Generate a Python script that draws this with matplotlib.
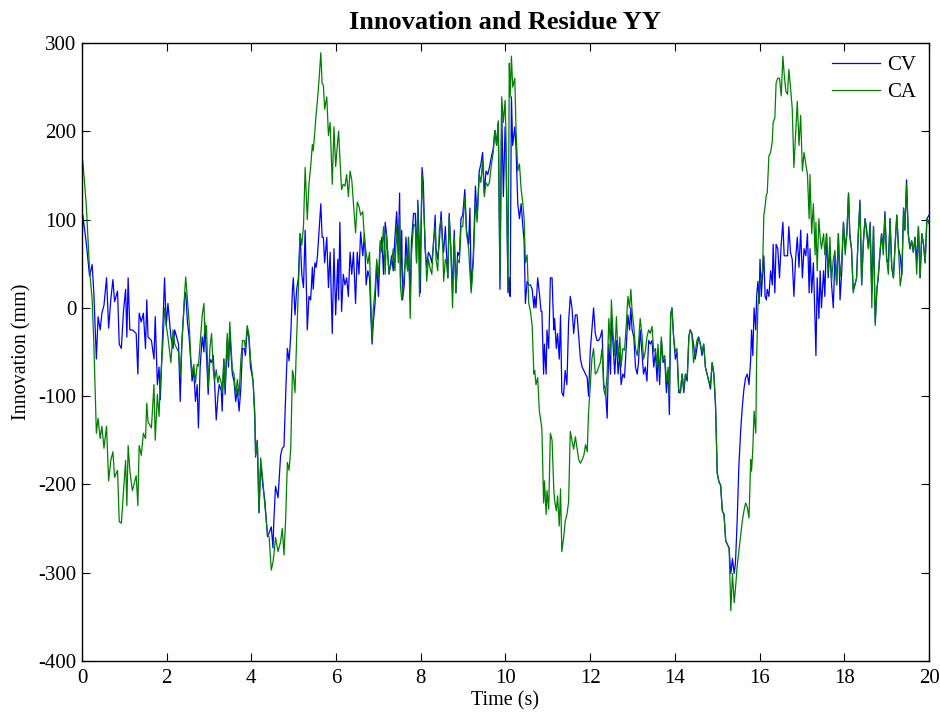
import matplotlib
matplotlib.use('Agg')
import matplotlib.pyplot as plt

plt.rcParams['font.family'] = ['Liberation Serif', 'DejaVu Serif']
plt.rcParams['axes.unicode_minus'] = False

# time (s)
time = [
    0.00, 0.02, 0.10, 0.18, 0.24, 0.28, 0.34, 0.38, 0.43, 0.47, 0.52, 0.58, 0.63, 0.68, 0.73, 0.77,
    0.84, 0.88, 0.93, 0.98, 1.03, 1.06, 1.09, 1.13, 1.19, 1.28, 1.32, 1.35, 1.40, 1.45, 1.50, 1.53,
    1.56, 1.64, 1.70, 1.73, 1.78, 1.82, 1.85, 1.91, 1.95, 1.99, 2.03, 2.10, 2.15, 2.19, 2.28, 2.32,
    2.36, 2.43,
    2.45, 2.49, 2.53, 2.57, 2.60, 2.64, 2.68, 2.72, 2.75, 2.79, 2.84, 2.88, 2.90, 2.94, 2.98, 3.02,
    3.06, 3.10, 3.13, 3.17, 3.21, 3.24, 3.29, 3.31, 3.35, 3.38, 3.43, 3.46, 3.49, 3.55, 3.59, 3.63,
    3.67, 3.71, 3.75, 3.79, 3.83, 3.86, 3.90, 3.94, 3.98, 4.04, 4.08, 4.10, 4.14, 4.18, 4.22, 4.27,
    4.32, 4.38, 4.42, 4.47, 4.51, 4.53, 4.57, 4.63, 4.69, 4.73, 4.77, 4.81, 4.85, 4.89, 4.93, 4.97,
    4.99, 5.03, 5.07, 5.11, 5.15, 5.19, 5.23, 5.27, 5.32, 5.36, 5.40, 5.44, 5.46, 5.50, 5.53, 5.56,
    5.60, 5.64, 5.67, 5.70, 5.73, 5.78, 5.82, 5.86, 5.91, 5.95, 5.99, 6.04, 6.06, 6.09, 6.13, 6.17,
    6.21, 6.25, 6.29, 6.33, 6.37, 6.41, 6.46, 6.50, 6.54, 6.58, 6.63, 6.67, 6.71, 6.75, 6.79, 6.82,
    6.85, 6.88, 6.92, 6.96, 7.00, 7.04, 7.08, 7.12, 7.16, 7.19, 7.25, 7.31, 7.35, 7.39, 7.43, 7.47,
    7.50,
    7.52, 7.55, 7.57, 7.61, 7.65, 7.69, 7.71, 7.75, 7.78, 7.83, 7.87, 7.90, 7.93, 7.97, 7.99, 8.03,
    8.06, 8.10, 8.14, 8.18, 8.22, 8.26, 8.30, 8.34, 8.36, 8.40, 8.44, 8.48, 8.52, 8.54, 8.58, 8.61,
    8.64, 8.67, 8.71, 8.75, 8.79, 8.83, 8.87, 8.91, 8.95, 8.99, 9.04, 9.08, 9.13, 9.16, 9.19, 9.24,
    9.29, 9.33, 9.38, 9.42, 9.46, 9.50, 9.54, 9.58, 9.62, 9.67, 9.71, 9.75, 9.79, 9.83, 9.87, 9.91,
    9.95, 9.99,
    10.01, 10.06, 10.09, 10.11, 10.14, 10.17, 10.22, 10.25, 10.29, 10.33, 10.37, 10.41, 10.44, 10.47,
    10.51, 10.55, 10.59, 10.63, 10.67, 10.69, 10.72, 10.76, 10.80, 10.84, 10.86, 10.90, 10.92, 10.96,
    10.98, 11.02, 11.06, 11.10, 11.14, 11.16, 11.20, 11.23, 11.27, 11.30, 11.33, 11.37, 11.41, 11.45,
    11.49, 11.53, 11.57, 11.61, 11.65, 11.69, 11.73, 11.77, 11.81, 11.85, 11.89, 11.93, 11.96, 12.00,
    12.04, 12.08, 12.12, 12.16, 12.20, 12.24, 12.28, 12.32, 12.36, 12.40, 12.44, 12.48,
    12.50, 12.54, 12.58, 12.62, 12.66, 12.70, 12.73, 12.77, 12.81, 12.85, 12.89, 12.93, 12.96, 12.99,
    13.03, 13.07, 13.11, 13.14, 13.18, 13.22, 13.26, 13.30, 13.34, 13.38, 13.42, 13.46, 13.50, 13.54,
    13.58, 13.60, 13.64, 13.68, 13.72, 13.76, 13.80, 13.84, 13.87, 13.90, 13.93, 13.97, 14.01, 14.05,
    14.09, 14.13, 14.17, 14.21, 14.25, 14.29, 14.33, 14.36, 14.40, 14.44, 14.48, 14.52, 14.56, 14.60,
    14.64, 14.68, 14.72, 14.76, 14.80, 14.84, 14.88, 14.92, 14.96, 15.00,
    15.04, 15.08, 15.12, 15.16, 15.20, 15.24, 15.28, 15.32, 15.36, 15.40, 15.43, 15.47, 15.51, 15.55,
    15.59, 15.63, 15.67, 15.71, 15.75, 15.79, 15.81, 15.84, 15.87, 15.91, 15.93, 15.96, 15.99, 16.01,
    16.04, 16.07, 16.10, 16.13, 16.16, 16.18, 16.22, 16.26, 16.30, 16.32, 16.36, 16.39, 16.43, 16.47,
    16.51, 16.55, 16.58, 16.62, 16.66, 16.69, 16.73, 16.77, 16.81, 16.85, 16.89, 16.93, 16.97, 17.01,
    17.05, 17.09, 17.13, 17.17, 17.19, 17.23, 17.27, 17.31, 17.33, 17.36, 17.40, 17.43, 17.46, 17.51,
    17.54, 17.58, 17.62, 17.66, 17.70, 17.74, 17.78, 17.82, 17.86, 17.90, 17.94, 17.98, 18.02, 18.06,
    18.10, 18.13, 18.17, 18.21, 18.25, 18.29, 18.33, 18.37, 18.41, 18.45, 18.49, 18.53, 18.57, 18.61,
    18.65, 18.69, 18.73, 18.77, 18.80, 18.84, 18.88, 18.92, 18.96, 19.00, 19.04, 19.08, 19.12, 19.16,
    19.20, 19.24, 19.28, 19.32, 19.36, 19.40, 19.43, 19.47, 19.51, 19.55, 19.59, 19.63, 19.67, 19.71,
    19.75, 19.79, 19.83, 19.87, 19.91, 19.95, 20.00,
]

# innovation, constant velocity model (mm)
cv = [
    60, 105, 74, 36, 49, 17, -58, -10, -25, -6, 3, 34, -23, 9, 32, 7,
    19, -41, -46, -4, 21, -33, 34, -25, -25, -29, -75, -6, -16, -6, -46, 9,
    -33, -37, -58, -10, -87, -67, -104, -20, 34, -20, 5, -33, -46, -25, -41, -106,
    -37, 17,
    17, -16, -33, -62, -83, -71, -106, -87, -136, -67, -33, -50, -16, -54, -98, -58,
    -62, -54, -83, -127, -100, -87, -94, -117, -58, -98, -37, -67, -29, -75, -83, -106,
    -92, -117, -92, -46, -46, -54, -25, -33, -67, -83, -125, -169, -150, -232, -177, -201,
    -219, -259, -255, -248, -272, -242, -202, -215, -167, -159, -157, -98, -46, -60, -31, 21,
    34, -8, 21, 34, 84, 38, 23, 88, -25, 13, 9, 46, 21, 51, 46, 59,
    88, 118, 80, 80, 51, 80, 23, 63, -29, 67, -8, 55, 9, 97, -4, 38,
    26, 34, 13, 63, 38, 63, 5, 63, 38, 86, 59, 84, 26, 42, 34, -8,
    -41, -16, 5, 51, 13, 67, 80, 38, 97, 84, 38, 59, 42, 80, 109, 67,
    130,
    34, 88, 9, 26, 80, 42, 80, 9, 76, 107, 107, 51, 122, 67, 17, 159,
    142, 67, 46, 63, 59, 51, 72, 105, 67, 55, 76, 109, 72, 63, 92, 59,
    34, 107, 67, 17, 88, 17, 63, 59, 101, 105, 134, 88, 72, 113, 21, 59,
    138, 101, 155, 163, 176, 130, 155, 151, 159, 172, 180, 201, 184, 210, 21, 226,
    126, 205,
    176, 17, 34, 13, 239, 184, 205, 180, 118, 101, 118, 92, 76, 5,
    30, 26, 26, 21, 0, 13, 0, 34, 17, -4, -4, -75, -41, -75,
    -25, -46, 34, 34, -25, -12, -46, -29, -58, -8, -96, -100, -71, -87,
    -16, 13, 0, -29, -8, -8, -33, -58, -67, -71, -75, -79, -100, -50,
    -25, 0, -29, -37, -37, -33, -25, -87, -92, -125, -41, -75,
    -12, -41, -75, -37, -75, -50, -87, -75, -79, -46, -8, -25, 0, -25,
    -33, -67, -75, -62, -25, -50, -75, -67, -83, -37, -41, -37, -67, -50,
    -83, -46, -87, -37, -62, -58, -96, -71, -121, -8, 0, -33, -58, -50,
    -96, -96, -75, -96, -75, -83, -33, -25, -29, -41, -58, -46, -33, -41,
    -54, -41, -67, -75, -83, -92, -62, -75, -113, -187,
    -197, -201, -230, -234, -264, -268, -272, -301, -284, -301, -289, -242, -180, -142,
    -113, -92, -79, -75, -87, -58, -25, -54, 0, -25, 13, 30, 5, 55,
    13, 38, 59, 13, 9, 21, 13, 42, 26, 72, 17, 72, 67, 34,
    72, 97, 59, 59, 59, 92, 63, 55, 13, 55, 80, 46, 88, 34,
    67, 59, 84, 17, 67, 17, 51, -16, -54, 34, -12, 42, 0, 42,
    13, 84, 34, 67, 26, 0, 59, 26, 84, 9, 42, 97, 67, 84,
    130, 84, 67, 21, 26, 34, 84, 122, 26, 76, 101, 88, 67, 97,
    17, 92, -16, 21, 34, 59, 84, 67, 109, 55, 51, 101, 46, 34,
    72, 105, 67, 59, 38, 113, 88, 145, 84, 67, 76, 63, 80, 51,
    92, 34, 84, 72, 51, 101, 105,
]

# innovation, constant acceleration model (mm)
ca = [
    168, 166, 118, 42, 10, -40, -142, -125, -148, -134, -159, -134, -196, -173, -163, -192,
    -184, -242, -244, -209, -173, -224, -156, -184, -207, -190, -224, -156, -167, -142, -148, -108,
    -129, -136, -87, -150, -98, -123, -85, -41, 0, -20, -33, -62, -25, -41, -50, -75,
    -41, 21,
    35, 10, -16, -58, -75, -64, -85, -64, -66, -40, -8, 5, -30, -20, -90, -46,
    -29, -70, -83, -70, -85, -77, -85, -96, -58, -90, -29, -60, -16, -70, -75, -98,
    -81, -100, -60, -37, -37, -46, -20, -29, -58, -83, -117, -167, -150, -232, -170, -195,
    -225, -255, -260, -297, -288, -280, -260, -276, -265, -250, -280, -238, -175, -184, -159, -71,
    -75, -96, -33, 21, 84, 71, 92, 159, 100, 140, 160, 185, 178, 201, 220, 235,
    260, 289, 254, 252, 225, 239, 195, 210, 140, 205, 160, 190, 200, 170, 134, 140,
    138, 151, 126, 155, 145, 118, 85, 120, 115, 105, 109, 78, 62, 50, 63, 9,
    -37, 0, 21, 55, 34, 76, 63, 92, 38, 84, 40, 51, 67, 42, 92, 51,
    105,
    25, 9, 15, 40, 59, 42, 80, -12, 60, 95, 92, 51, 117, 13, 60, 151,
    120, 80, 30, 55, 45, 38, 75, 92, 55, 42, 90, 100, 67, 30, 55, 50,
    34, 103, 67, 0, 80, 17, 55, 51, 92, 92, 126, 84, 67, 40, 17, 51,
    120, 97, 151, 142, 168, 126, 142, 138, 142, 163, 176, 201, 185, 212, 34, 239,
    210, 235,
    200, 20, 277, 239, 285, 250, 260, 200, 155, 163, 134, 118, 101, 51,
    60, 5, -4, -20, -75, -71, -87, -79, -117, -130, -138, -221, -196, -234,
    -207, -228, -142, -150, -205, -218, -230, -213, -247, -205, -276, -262, -242, -234,
    -220, -140, -150, -160, -146, -159, -172, -176, -172, -167, -155, -163, -120, -90,
    -58, -46, -75, -73, -67, -62, -46, -92, -100, -75, -12, -46,
    9, -29, -54, -10, -58, -33, -67, -46, -48, -21, 13, 0, 21, -4,
    -21, -46, -54, -41, -12, -29, -58, -50, -33, -25, -29, -21, -50, -46,
    -67, -41, -75, -33, -58, -54, -83, -67, -100, -8, 0, -33, -50, -46,
    -92, -96, -75, -92, -75, -79, -33, -25, -29, -62, -50, -37, -33, -41,
    -50, -41, -67, -75, -83, -87, -62, -75, -108, -188,
    -197, -201, -230, -234, -264, -268, -272, -343, -301, -334, -318, -293, -276, -259,
    -242, -230, -221, -226, -238, -172, -185, -160, -117, -142, -58, 0, 20, 28,
    35, 42, 105, 115, 128, 130, 172, 176, 189, 210, 215, 255, 260, 260,
    240, 285, 265, 245, 242, 270, 250, 226, 159, 197, 234, 184, 218, 155,
    176, 163, 151, 101, 151, 84, 118, 60, 97, 42, 101, 80, 67, 84,
    60, 84, 40, 80, 30, 55, 65, 26, 84, 35, 55, 97, 60, 84,
    130, 80, 67, 17, 26, 34, 84, 118, 26, 72, 101, 84, 67, 92,
    0, 92, -20, 21, 34, 63, 84, 60, 105, 55, 38, 101, 46, 34,
    72, 105, 67, 25, 38, 113, 88, 140, 84, 67, 76, 63, 80, 38,
    92, 34, 84, 72, 51, 101, 95,
]

fig = plt.figure(figsize=(9.4, 7.13), dpi=100)
ax = fig.add_axes([0.0872, 0.0729, 0.9011, 0.8668])

ax.plot(time, cv, color=(0, 0, 1), linewidth=0.9, label='CV')
ax.plot(time, ca, color=(0, 0.5, 0), linewidth=0.9, label='CA')

ax.set_xlim(0, 20)
ax.set_ylim(-400, 300)
ax.set_xticks(range(0, 21, 2))
ax.set_yticks(range(-400, 301, 100))
ax.tick_params(direction='in', top=True, right=True, length=6, width=0.8, labelsize=15)
ax.tick_params(axis='x', pad=6)
ax.tick_params(axis='y', pad=4)
for sp in ax.spines.values():
    sp.set_linewidth(1.0)

ax.set_title('Innovation and Residue YY', fontsize=19, fontweight='bold', pad=10)
ax.set_xlabel('Time (s)', fontsize=14.5, labelpad=2)
ax.set_ylabel('Innovation (mm)', fontsize=14.5, labelpad=5)

ax.legend(loc='upper right', frameon=False, fontsize=15, handlelength=2.3,
          handletextpad=0.35, labelspacing=0.35, borderaxespad=0.2)

fig.savefig('out.png', dpi=100)
